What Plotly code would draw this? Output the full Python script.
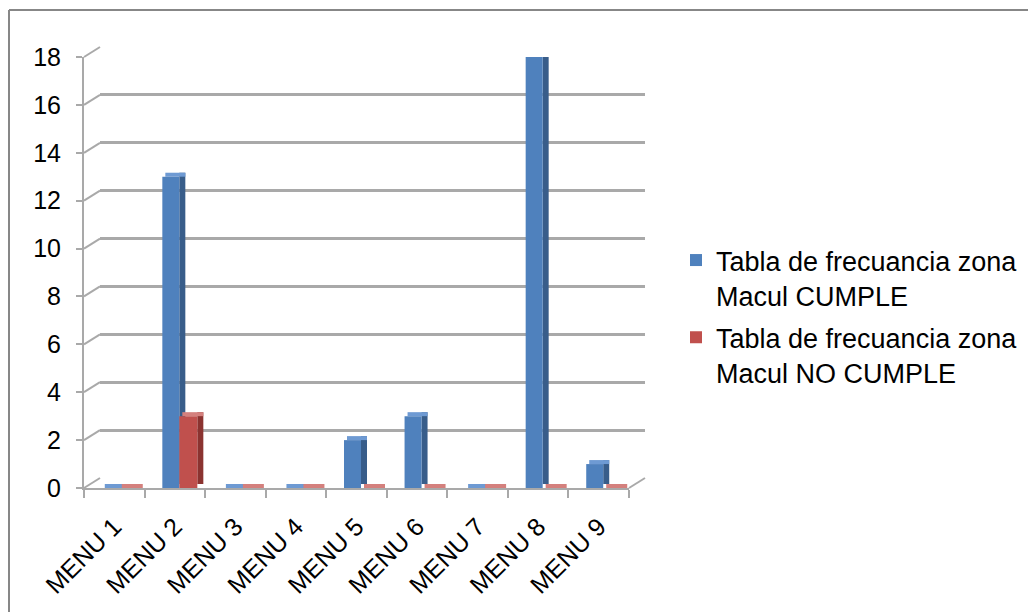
import plotly.graph_objects as go

categories = ["MENU 1", "MENU 2", "MENU 3", "MENU 4", "MENU 5", "MENU 6", "MENU 7", "MENU 8", "MENU 9"]
cumple = [0, 13, 0, 0, 2, 3, 0, 18, 1]
no_cumple = [0, 3, 0, 0, 0, 0, 0, 0, 0]
y_ticks = [0, 2, 4, 6, 8, 10, 12, 14, 16, 18]
name_cumple = "Tabla de frecuancia zona<br>Macul CUMPLE"
name_no = "Tabla de frecuancia zona<br>Macul NO CUMPLE"

W, H = 1028, 612
ML, MR, MT, MB = 84, 383, 47, 124
PW = W - ML - MR   # 561
PH = H - MT - MB   # 441
DX, DY = 16, 10    # back-wall offset in px
FW = PW - DX       # front width 545
FH = PH - DY       # front height 431
YMAX = 18
unit_x = FW / len(categories)
unit_y = FH / YMAX
dx = 6 / unit_x    # bar depth (x units)
dy = 4 / unit_y    # bar depth (y units)

FONT = "Liberation Sans, Arial, sans-serif"
GRID = "#A9A9A9"

fig = go.Figure()

# back wall subplot (gridlines)
fig.add_trace(go.Scatter(x=categories, y=[None] * len(categories), xaxis="x", yaxis="y",
                         mode="markers", showlegend=False, hoverinfo="skip"))

series = [
    (cumple, name_cumple, "a", -12.5 / unit_x, 17 / unit_x, "#4F81BD", "#385D8A", "#6E9AD3"),
    (no_cumple, name_no, "b", 4.5 / unit_x, 18 / unit_x, "#C0504D", "#8B3330", "#D4807D"),
]
for vals, name, grp, off, wid, cf, cs, ct in series:
    # side face
    fig.add_trace(go.Bar(x=categories, y=vals, base=[dy] * len(vals), offset=off + wid, width=dx,
                         marker=dict(color=cs, line=dict(width=0)), xaxis="x2", yaxis="y2",
                         showlegend=False, legendgroup=grp, hoverinfo="skip", cliponaxis=False))
    # top face
    fig.add_trace(go.Bar(x=categories, y=[dy] * len(vals), base=vals, offset=off + dx * 0.5, width=wid + dx * 0.5,
                         marker=dict(color=ct, line=dict(width=0)), xaxis="x2", yaxis="y2",
                         showlegend=False, legendgroup=grp, hoverinfo="skip", cliponaxis=False))
    # front face
    fig.add_trace(go.Bar(x=categories, y=vals, offset=off, width=wid, name=name,
                         marker=dict(color=cf, line=dict(width=0)), xaxis="x2", yaxis="y2",
                         legendgroup=grp, cliponaxis=False))

shapes = []
# diagonal connectors from front ticks to back gridlines
for v in y_ticks:
    yf = v / YMAX * FH / PH
    shapes.append(dict(type="line", xref="paper", yref="paper", x0=0, x1=DX / PW,
                       y0=yf, y1=yf + DY / PH, line=dict(color=GRID, width=2), layer="below"))
# floor right edge
shapes.append(dict(type="line", xref="paper", yref="paper", x0=FW / PW, x1=1, y0=0, y1=DY / PH,
                   line=dict(color=GRID, width=2), layer="below"))
# chart border (top and left)
bx = (9 - ML) / PW
by = (H - MB - 10) / PH
shapes.append(dict(type="line", xref="paper", yref="paper", x0=bx, x1=(W - ML) / PW, y0=by, y1=by,
                   line=dict(color="#878787", width=2)))
shapes.append(dict(type="line", xref="paper", yref="paper", x0=bx, x1=bx, y0=by, y1=-MB / PH,
                   line=dict(color="#878787", width=2)))

fig.update_layout(
    width=W, height=H, autosize=False,
    margin=dict(l=ML, r=MR, t=MT, b=MB, pad=0, autoexpand=False),
    paper_bgcolor="white", plot_bgcolor="rgba(0,0,0,0)",
    font=dict(family=FONT, size=25, color="black"),
    barmode="overlay",
    showlegend=True,
    legend=dict(xref="container", yref="container", x=676 / W, y=1 - 236 / H,
                xanchor="left", yanchor="top", valign="top", tracegroupgap=4,
                font=dict(family=FONT, size=27, color="black"), bgcolor="rgba(0,0,0,0)",
                itemclick=False),
    xaxis=dict(domain=[DX / PW, 1], range=[-0.5, len(categories) - 0.5], anchor="y",
               showticklabels=False, showline=False, ticks="", showgrid=False, zeroline=False,
               automargin=False),
    yaxis=dict(domain=[DY / PH, 1], range=[0, YMAX], anchor="x", tickvals=y_ticks,
               showticklabels=False, showline=False, ticks="", showgrid=True,
               gridcolor=GRID, gridwidth=2.5, zeroline=False, automargin=False),
    xaxis2=dict(domain=[0, FW / PW], range=[-0.5, len(categories) - 0.5], anchor="y2",
                showline=True, linecolor=GRID, linewidth=2, ticks="outside", ticklen=8,
                tickwidth=2, tickcolor=GRID, tickson="boundaries", tickangle=-45,
                ticklabelstandoff=12, automargin=False,
                showgrid=False, zeroline=False, tickfont=dict(size=25, color="black")),
    yaxis2=dict(domain=[0, FH / PH], range=[0, YMAX], anchor="x2", tickvals=y_ticks,
                showline=True, linecolor=GRID, linewidth=2, ticks="outside", ticklen=6,
                tickwidth=2, tickcolor=GRID, showgrid=False, zeroline=False, automargin=False,
                ticklabelstandoff=10, tickfont=dict(size=25, color="black")),
    shapes=shapes,
)

fig.write_html("out.html")
